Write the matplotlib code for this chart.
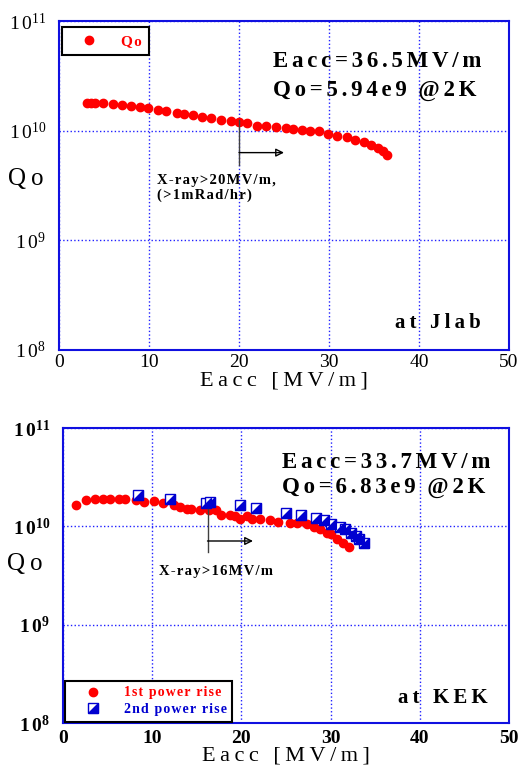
import math
import matplotlib
matplotlib.use("Agg")
import matplotlib.pyplot as plt
from matplotlib.ticker import FixedLocator, FuncFormatter, NullLocator
from matplotlib.legend_handler import HandlerTuple

plt.rcParams['font.family'] = ['Liberation Serif', 'DejaVu Serif']
plt.rcParams['mathtext.fontset'] = 'custom'
plt.rcParams['mathtext.rm'] = 'Liberation Serif'
plt.rcParams['mathtext.bf'] = 'Liberation Serif:bold'

# Jlab test: Eacc [MV/m] vs log10(Qo)
jlab_e = [3.1, 3.5, 4.0, 4.9, 6.0, 7.0, 8.0, 9.0, 9.9, 11.0, 11.9, 13.1, 13.9, 14.9,
          15.9, 16.9, 18.0, 19.1, 20.0, 20.9, 22.0, 23.0, 24.1, 25.2, 26.0, 27.0,
          27.9, 28.9, 29.9, 30.9, 32.0, 32.9, 33.9, 34.7, 35.5, 36.0, 36.5]
jlab_logq = [10.257, 10.257, 10.255, 10.255, 10.243, 10.234, 10.221, 10.212, 10.206,
             10.191, 10.182, 10.161, 10.152, 10.139, 10.124, 10.112, 10.100, 10.091,
             10.082, 10.070, 10.047, 10.039, 10.030, 10.021, 10.015, 10.009, 10.000,
             9.994, 9.973, 9.955, 9.943, 9.918, 9.897, 9.866, 9.843, 9.812, 9.774]

# KEK test, 1st power rise
kek1_e = [1.5, 2.6, 3.6, 4.5, 5.3, 6.3, 7.0, 8.2, 9.1, 10.2, 11.2, 12.4, 13.1, 13.9,
          14.4, 15.4, 16.4, 17.2, 17.7, 18.7, 19.3, 19.8, 20.6, 21.2, 22.1, 23.2,
          24.1, 25.4, 26.2, 26.8, 27.3, 28.1, 28.8, 29.6, 30.1, 30.7, 31.4, 32.1]
kek1_logq = [10.222, 10.263, 10.280, 10.283, 10.283, 10.283, 10.280, 10.273, 10.245,
             10.253, 10.239, 10.212, 10.200, 10.172, 10.178, 10.170, 10.165, 10.162,
             10.114, 10.118, 10.104, 10.078, 10.104, 10.078, 10.071, 10.064, 10.047,
             10.037, 10.030, 10.054, 10.020, 9.997, 9.970, 9.936, 9.919, 9.876, 9.835,
             9.795]

# KEK test, 2nd power rise
kek2_e = [8.4, 12.0, 16.0, 16.5, 19.8, 21.6, 25.0, 26.7, 28.4, 29.3, 30.1, 31.0,
          31.6, 32.3, 32.8, 33.2, 33.7]
kek2_logq = [10.316, 10.283, 10.240, 10.252, 10.212, 10.189, 10.138, 10.111, 10.081,
             10.061, 10.027, 9.997, 9.970, 9.936, 9.902, 9.869, 9.828]

xticks = [0, 10, 20, 30, 40, 50]
yticks = [1e8, 1e9, 1e10, 1e11]

THIN = '\u2009'
HAIR = '\u200a'
HAIR2 = HAIR * 2


def spaced(s, gap):
    # old plotting program draws text with wide letter spacing
    return gap.join(s)


fig = plt.figure(figsize=(5.19, 7.65), dpi=100)
ax1 = fig.add_axes([0.1137, 0.5425, 0.867, 0.430])
ax2 = fig.add_axes([0.1214, 0.0549, 0.8593, 0.3856])


def style_axes(ax, bold):
    ax.set_xlim(0, 50)
    ax.set_yscale('log')
    ax.set_ylim(1e8, 1e11)
    ax.xaxis.set_major_locator(FixedLocator(xticks))
    ax.yaxis.set_major_locator(FixedLocator(yticks))
    ax.yaxis.set_minor_locator(NullLocator())
    if bold:
        fmt = FuncFormatter(lambda v, p: r'$\mathbf{1\,0^{%d}}$' % round(math.log10(v)))
    else:
        fmt = FuncFormatter(lambda v, p: r'$\mathrm{1\,0^{%d}}$' % round(math.log10(v)))
    ax.yaxis.set_major_formatter(fmt)
    ax.tick_params(length=0, labelsize=14, pad=3)
    ax.tick_params(axis='y', pad=9)
    if bold:
        ax.tick_params(axis='x', pad=5)
        for lab in ax.get_xticklabels():
            lab.set_fontweight('bold')
    ax.grid(True, color='#2020ff', linestyle=':', linewidth=1.0)
    for s in ax.spines.values():
        s.set_color('#1010e0')
        s.set_linewidth(1.5)
    ax.set_xlabel(spaced('Eacc [MV/m]', THIN), fontsize=16, labelpad=0)
    ax.set_ylabel(spaced('Qo', THIN), fontsize=18, rotation=0, labelpad=14, va='center')


style_axes(ax1, False)
style_axes(ax2, True)
ax1.yaxis.set_label_coords(-0.075, 0.52)
ax2.yaxis.set_label_coords(-0.085, 0.54)

# top panel
ax1.plot(jlab_e, [10 ** v for v in jlab_logq], 'o', color='red', ms=6, mec='red',
         linestyle='none', label=spaced('Qo', HAIR))
leg1 = ax1.legend(loc='upper left', bbox_to_anchor=(0.0, 0.99), fancybox=False,
                  edgecolor='black', framealpha=1, borderaxespad=0.2,
                  prop={'weight': 'bold', 'size': 11}, handlelength=2.6,
                  borderpad=0.45)
leg1.get_frame().set_linewidth(1.5)
leg1.get_texts()[0].set_color('red')

ax1.text(23.8, 10 ** 10.63, spaced('Eacc=36.5MV/m', HAIR2), fontsize=16.5,
         fontweight='bold', va='center')
ax1.text(23.8, 10 ** 10.37, spaced('Qo=5.94e9', HAIR2) + '  ' + spaced('@2K', HAIR2),
         fontsize=16.5, fontweight='bold', va='center')
ax1.text(37.3, 10 ** 8.25, spaced('at Jlab', THIN), fontsize=15, fontweight='bold',
         va='center')
ax1.plot([20, 20], [10 ** 10.10, 10 ** 9.69], color='#404040', lw=1)
ax1.annotate('', xy=(25.0, 10 ** 9.80), xytext=(20, 10 ** 9.80),
             arrowprops=dict(arrowstyle='-|>', color='black', lw=1, mutation_scale=12,
                             shrinkA=0, shrinkB=0, fill=False))
ax1.text(10.9, 10 ** 9.55, spaced('X-ray>20MV/m,', HAIR), fontsize=10.5,
         fontweight='bold', va='center')
ax1.text(10.9, 10 ** 9.41, spaced('(>1mRad/hr)', HAIR), fontsize=10.5,
         fontweight='bold', va='center')

# bottom panel
h1, = ax2.plot(kek1_e, [10 ** v for v in kek1_logq], 'o', color='red', ms=6,
               mec='red', linestyle='none')
tri = [(-1, -1), (1, -1), (1, 1), (-1, -1)]
q2 = [10 ** v for v in kek2_logq]
h2a, = ax2.plot(kek2_e, q2, 's', mfc='white', mec='#0000d0', mew=1.0, ms=7,
                linestyle='none')
h2b, = ax2.plot(kek2_e, q2, marker=tri, mfc='#0000d0', mec='#0000d0', mew=1.0,
                ms=7, linestyle='none')
leg2 = ax2.legend([h1, (h2a, h2b)],
                  [spaced('1st power rise', HAIR), spaced('2nd power rise', HAIR)],
                  handler_map={tuple: HandlerTuple(ndivide=1)},
                  loc='lower left', bbox_to_anchor=(0.005, 0.005), fancybox=False,
                  edgecolor='black', framealpha=1, borderaxespad=0.0,
                  prop={'weight': 'bold', 'size': 10}, handlelength=3.2,
                  borderpad=0.4, labelspacing=0.25, handletextpad=0.6)
leg2.get_frame().set_linewidth(1.5)
leg2.get_texts()[0].set_color('red')
leg2.get_texts()[1].set_color('#0000d0')

ax2.text(24.5, 10 ** 10.648, spaced('Eacc=33.7MV/m', HAIR2), fontsize=16.5,
         fontweight='bold', va='center')
ax2.text(24.5, 10 ** 10.395, spaced('Qo=6.83e9', HAIR2) + '  ' + spaced('@2K', HAIR2),
         fontsize=16.5, fontweight='bold', va='center')
ax2.text(37.6, 10 ** 8.25, spaced('at KEK', THIN), fontsize=15, fontweight='bold',
         va='center')
ax2.plot([16.2, 16.2], [10 ** 10.172, 10 ** 9.737], color='#404040', lw=1)
ax2.annotate('', xy=(21.3, 10 ** 9.851), xytext=(16.2, 10 ** 9.851),
             arrowprops=dict(arrowstyle='-|>', color='black', lw=1, mutation_scale=12,
                             shrinkA=0, shrinkB=0, fill=False))
ax2.text(10.8, 10 ** 9.544, spaced('X-ray>16MV/m', HAIR), fontsize=10.5,
         fontweight='bold', va='center')

fig.savefig('out.png', dpi=100)
